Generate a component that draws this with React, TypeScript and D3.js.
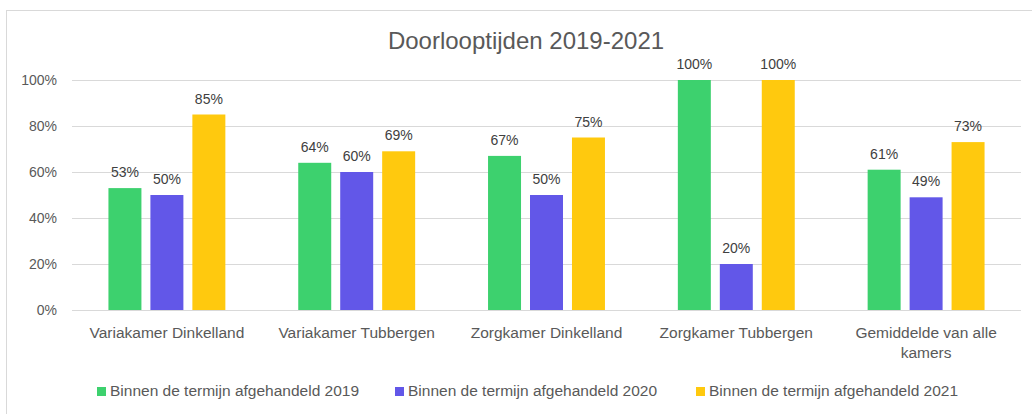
import React, { useEffect, useRef } from "react";
import * as d3 from "d3";

const categories = [
  "Variakamer Dinkelland",
  "Variakamer Tubbergen",
  "Zorgkamer Dinkelland",
  "Zorgkamer Tubbergen",
  "Gemiddelde van alle kamers",
];
const seriesNames = [
  "Binnen de termijn afgehandeld 2019",
  "Binnen de termijn afgehandeld 2020",
  "Binnen de termijn afgehandeld 2021",
];
const values2019 = [0.53, 0.64, 0.67, 1.0, 0.61];
const values2020 = [0.5, 0.6, 0.5, 0.2, 0.49];
const values2021 = [0.85, 0.69, 0.75, 1.0, 0.73];
const yTicks = [0, 0.2, 0.4, 0.6, 0.8, 1.0];
const colors = ["#3dd16e", "#6257e8", "#ffc90e"];
const title = "Doorlooptijden 2019-2021";

const W = 1032;
const H = 414;
const FONT = "'Liberation Sans', Arial, sans-serif";

export default function App() {
  const ref = useRef<SVGSVGElement | null>(null);

  useEffect(() => {
    const svg = d3.select(ref.current);
    svg.selectAll("*").remove();

    const series = [values2019, values2020, values2021];
    const left = 72, right = 1021, top = 80, bottom = 310;

    // border (bottom and right edges fall outside the picture)
    svg.append("rect")
      .attr("x", 6.5).attr("y", 10.5)
      .attr("width", 1040).attr("height", 420)
      .attr("fill", "#fff").attr("stroke", "#d9d9d9");

    // title
    svg.append("text")
      .attr("x", 526).attr("y", 49)
      .attr("text-anchor", "middle")
      .attr("font-family", FONT).attr("font-size", 24)
      .attr("fill", "#595959")
      .text(title);

    const y = d3.scaleLinear().domain([0, 1]).range([bottom, top]);
    const x0 = d3.scaleBand<string>().domain(categories).range([left, right])
      .paddingInner(0.384).paddingOuter(0.192);
    const x1 = d3.scaleBand<number>().domain([0, 1, 2]).range([0, x0.bandwidth()])
      .paddingInner(0.214).paddingOuter(0);

    // grid
    const g = svg.append("g");
    g.selectAll("line.grid").data(yTicks).enter().append("line")
      .attr("x1", left).attr("x2", right)
      .attr("y1", (d) => Math.round(y(d)) + 0.5).attr("y2", (d) => Math.round(y(d)) + 0.5)
      .attr("stroke", "#d9d9d9").attr("stroke-width", 1);

    g.selectAll("text.tick").data(yTicks).enter().append("text")
      .attr("x", 57).attr("y", (d) => y(d))
      .attr("dy", "0.36em")
      .attr("text-anchor", "end")
      .attr("font-family", FONT).attr("font-size", 14)
      .attr("fill", "#595959")
      .text((d) => d3.format(".0%")(d));

    // bars
    series.forEach((vals, si) => {
      const sg = svg.append("g");
      sg.selectAll("rect").data(vals).enter().append("rect")
        .attr("x", (_d, i) => (x0(categories[i]) as number) + (x1(si) as number))
        .attr("y", (d) => y(d))
        .attr("width", x1.bandwidth())
        .attr("height", (d) => y(0) - y(d))
        .attr("fill", colors[si]);
      sg.selectAll("text").data(vals).enter().append("text")
        .attr("x", (_d, i) => (x0(categories[i]) as number) + (x1(si) as number) + x1.bandwidth() / 2)
        .attr("y", (d) => y(d) - 11)
        .attr("text-anchor", "middle")
        .attr("font-family", FONT).attr("font-size", 14)
        .attr("fill", "#404040")
        .text((d) => d3.format(".0%")(d));
    });

    // category labels with wrapping
    const maxW = x0.step() - 12;
    categories.forEach((c) => {
      const cx = (x0(c) as number) + x0.bandwidth() / 2;
      const t = svg.append("text")
        .attr("x", cx).attr("y", 338)
        .attr("text-anchor", "middle")
        .attr("font-family", FONT).attr("font-size", 15.5)
        .attr("fill", "#595959");
      const words = c.split(" ");
      let line: string[] = [];
      let lineNo = 0;
      let tspan = t.append("tspan").attr("x", cx).attr("y", 338);
      words.forEach((w) => {
        line.push(w);
        tspan.text(line.join(" "));
        const node = tspan.node() as SVGTSpanElement;
        if (node.getComputedTextLength() > maxW && line.length > 1) {
          line.pop();
          tspan.text(line.join(" "));
          line = [w];
          lineNo++;
          tspan = t.append("tspan").attr("x", cx).attr("y", 338 + lineNo * 20).text(w);
        }
      });
    });

    // legend
    const legendX = [97, 395, 696];
    seriesNames.forEach((n, i) => {
      svg.append("rect")
        .attr("x", legendX[i]).attr("y", 387)
        .attr("width", 9).attr("height", 9)
        .attr("fill", colors[i]);
      svg.append("text")
        .attr("x", legendX[i] + 13).attr("y", 396)
        .attr("font-family", FONT).attr("font-size", 15.5)
        .attr("fill", "#595959")
        .text(n);
    });
  }, []);

  return (
    <svg
      ref={ref}
      width={W}
      height={H}
      style={{ position: "absolute", left: 0, top: 0, background: "#fff" }}
    />
  );
}
